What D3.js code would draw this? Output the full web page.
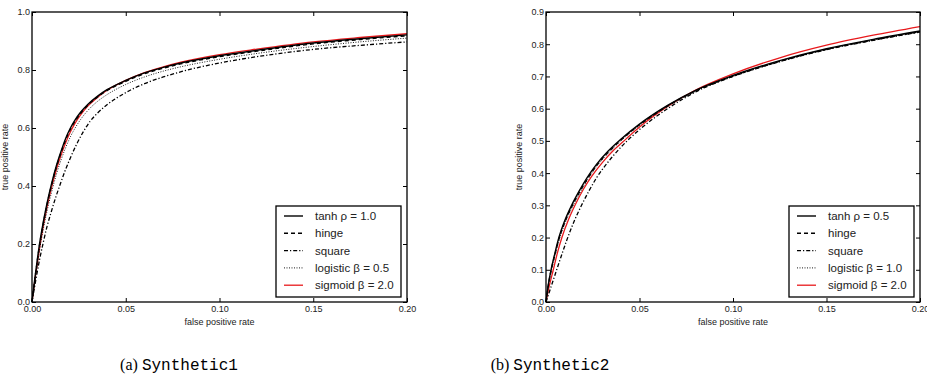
<!DOCTYPE html>
<html>
<head>
<meta charset="utf-8">
<script src="https://cdn.jsdelivr.net/npm/d3@7"></script>
<style>
  body { margin: 0; background: #fff; }
  svg { display: block; }
  text { font-family: "Liberation Sans", Arial, sans-serif; fill: #222; }
  .caption { font-size: 16px; fill: #000; }
  .caption .mono { font-family: "Liberation Mono", "DejaVu Sans Mono", monospace; }
  .caption .serif { font-family: "Liberation Serif", "DejaVu Serif", serif; }
</style>
</head>
<body>
<div id="chart"></div>
<script>

// ---- panel (a) Synthetic1 : [fpr, tpr] points
const a_tanh     = [[0,0],[0.001,0.055],[0.002,0.105],[0.004,0.2],[0.006,0.275],[0.008,0.34],[0.0105,0.41],[0.013,0.47],[0.0155,0.52],[0.018,0.565],[0.0205,0.6],[0.023,0.628],[0.026,0.655],[0.03,0.683],[0.035,0.71],[0.04,0.732],[0.05,0.764],[0.06,0.79],[0.07,0.809],[0.08,0.825],[0.1,0.849],[0.12,0.868],[0.15,0.893],[0.175,0.908],[0.2,0.921]];
const a_hinge    = [[0,0],[0.001,0.053],[0.002,0.102],[0.004,0.195],[0.006,0.27],[0.008,0.335],[0.0105,0.405],[0.013,0.465],[0.0155,0.515],[0.018,0.56],[0.0205,0.596],[0.023,0.624],[0.026,0.651],[0.03,0.68],[0.035,0.707],[0.04,0.729],[0.05,0.761],[0.06,0.787],[0.07,0.806],[0.08,0.822],[0.1,0.846],[0.12,0.865],[0.15,0.89],[0.175,0.905],[0.2,0.918]];
const a_square   = [[0,0],[0.002,0.075],[0.004,0.145],[0.006,0.205],[0.008,0.26],[0.01,0.305],[0.0125,0.358],[0.015,0.405],[0.0175,0.45],[0.02,0.49],[0.0235,0.54],[0.027,0.583],[0.031,0.623],[0.035,0.652],[0.04,0.68],[0.05,0.722],[0.06,0.753],[0.07,0.776],[0.08,0.795],[0.1,0.824],[0.12,0.846],[0.15,0.871],[0.175,0.885],[0.2,0.897]];
const a_logistic = [[0,0],[0.001,0.048],[0.002,0.093],[0.004,0.178],[0.006,0.25],[0.008,0.313],[0.0105,0.38],[0.013,0.44],[0.0155,0.49],[0.018,0.533],[0.0205,0.57],[0.023,0.6],[0.026,0.63],[0.03,0.662],[0.035,0.692],[0.04,0.715],[0.05,0.75],[0.06,0.776],[0.07,0.796],[0.08,0.812],[0.1,0.837],[0.12,0.857],[0.15,0.881],[0.175,0.897],[0.2,0.91]];
const a_sigmoid  = [[0,0],[0.001,0.05],[0.002,0.097],[0.004,0.185],[0.006,0.262],[0.008,0.327],[0.0105,0.397],[0.013,0.457],[0.0155,0.507],[0.018,0.55],[0.0205,0.587],[0.023,0.617],[0.026,0.646],[0.03,0.677],[0.035,0.706],[0.04,0.73],[0.05,0.764],[0.06,0.791],[0.07,0.811],[0.08,0.828],[0.1,0.853],[0.12,0.872],[0.15,0.897],[0.175,0.912],[0.2,0.925]];
const a_labels   = ["tanh \u03c1 = 1.0", "hinge", "square", "logistic \u03b2 = 0.5", "sigmoid \u03b2 = 2.0"];
const a_yTicks   = [0, 0.2, 0.4, 0.6, 0.8, 1.0];

// ---- panel (b) Synthetic2
const b_tanh     = [[0,0],[0.001,0.045],[0.0027,0.1],[0.0045,0.145],[0.0069,0.2],[0.01,0.252],[0.0137,0.3],[0.018,0.347],[0.022,0.386],[0.027,0.427],[0.033,0.467],[0.04,0.505],[0.05,0.552],[0.065,0.61],[0.08,0.657],[0.1,0.703],[0.125,0.749],[0.15,0.786],[0.175,0.815],[0.2,0.841]];
const b_hinge    = [[0,0],[0.001,0.043],[0.0027,0.097],[0.0045,0.141],[0.0069,0.195],[0.01,0.247],[0.0137,0.295],[0.018,0.342],[0.022,0.381],[0.027,0.423],[0.033,0.463],[0.04,0.502],[0.05,0.55],[0.065,0.608],[0.08,0.655],[0.1,0.701],[0.125,0.747],[0.15,0.784],[0.175,0.813],[0.2,0.839]];
const b_square   = [[0,0],[0.002,0.035],[0.004,0.07],[0.006,0.105],[0.0085,0.148],[0.011,0.19],[0.015,0.25],[0.019,0.3],[0.023,0.345],[0.027,0.385],[0.033,0.433],[0.04,0.48],[0.05,0.535],[0.065,0.6],[0.08,0.652],[0.1,0.7],[0.125,0.746],[0.15,0.783],[0.175,0.812],[0.2,0.838]];
const b_logistic = [[0,0],[0.001,0.041],[0.0027,0.094],[0.0045,0.137],[0.0069,0.19],[0.01,0.242],[0.0137,0.29],[0.018,0.337],[0.022,0.377],[0.027,0.42],[0.033,0.46],[0.04,0.5],[0.05,0.548],[0.065,0.607],[0.08,0.654],[0.1,0.7],[0.125,0.746],[0.15,0.784],[0.175,0.813],[0.2,0.839]];
const b_sigmoid  = [[0,0],[0.001,0.03],[0.0039,0.1],[0.006,0.15],[0.0085,0.2],[0.012,0.255],[0.0155,0.3],[0.02,0.35],[0.0244,0.39],[0.03,0.432],[0.036,0.47],[0.043,0.507],[0.05,0.543],[0.065,0.607],[0.08,0.658],[0.1,0.708],[0.125,0.758],[0.15,0.797],[0.175,0.828],[0.2,0.855]];
const b_labels   = ["tanh \u03c1 = 0.5", "hinge", "square", "logistic \u03b2 = 1.0", "sigmoid \u03b2 = 2.0"];
const b_yTicks   = [0, 0.1, 0.2, 0.3, 0.4, 0.5, 0.6, 0.7, 0.8, 0.9];

const xTicks = [0, 0.05, 0.10, 0.15, 0.20];

// line styles, same order as the legend
const styles = [
    {stroke: "#000", width: 1.4, dash: null},
    {stroke: "#000", width: 1.4, dash: "4,3"},
    {stroke: "#000", width: 1.3, dash: "4,2,1.2,2"},
    {stroke: "#000", width: 0.9, dash: "1,1.5"},
    {stroke: "#e8191c", width: 1.3, dash: null}
];

const W = 927, H = 387;
const svg = d3.select("#chart").append("svg").attr("width", W).attr("height", H);

function drawPanel(opt) {
    const x = d3.scaleLinear().domain([0, 0.2]).range([opt.left, opt.right]);
    const y = d3.scaleLinear().domain([0, opt.yMax]).range([opt.bottom, opt.top]);
    const g = svg.append("g");

    const line = d3.line()
        .x(d => x(d[0]))
        .y(d => y(d[1]))
        .curve(d3.curveMonotoneX);

    // curves (reverse order so the solid black sits on top)
    [4, 3, 2, 1, 0].forEach(function (i) {
        g.append("path")
            .datum(opt.series[i])
            .attr("fill", "none")
            .attr("stroke", styles[i].stroke)
            .attr("stroke-width", styles[i].width)
            .attr("stroke-dasharray", styles[i].dash)
            .attr("d", line);
    });

    // axes, ticks pointing inward on all four sides
    const fmtX = d3.format(".2f"), fmtY = d3.format(".1f");
    const bottomAx = g.append("g").attr("transform", "translate(0," + opt.bottom + ")")
        .call(d3.axisBottom(x).tickValues(xTicks).tickSizeInner(-4).tickSizeOuter(0).tickPadding(4).tickFormat(fmtX));
    const topAx = g.append("g").attr("transform", "translate(0," + opt.top + ")")
        .call(d3.axisTop(x).tickValues(xTicks).tickSizeInner(-4).tickSizeOuter(0).tickFormat(""));
    const leftAx = g.append("g").attr("transform", "translate(" + opt.left + ",0)")
        .call(d3.axisLeft(y).tickValues(opt.yTicks).tickSizeInner(-4).tickSizeOuter(0).tickPadding(2).tickFormat(fmtY));
    const rightAx = g.append("g").attr("transform", "translate(" + opt.right + ",0)")
        .call(d3.axisRight(y).tickValues(opt.yTicks).tickSizeInner(-4).tickSizeOuter(0).tickFormat(""));

    [bottomAx, topAx, leftAx, rightAx].forEach(function (ax) {
        ax.select(".domain").remove();
        ax.selectAll("line").attr("stroke", "#000").attr("stroke-width", 1);
        ax.selectAll("text").style("font-family", "Liberation Sans, Arial, sans-serif")
            .style("font-size", "9px").attr("fill", "#333");
    });

    // frame
    g.append("rect")
        .attr("x", opt.left).attr("y", opt.top)
        .attr("width", opt.right - opt.left).attr("height", opt.bottom - opt.top)
        .attr("fill", "none").attr("stroke", "#000").attr("stroke-width", 1.3);

    // axis labels
    g.append("text")
        .attr("x", (opt.left + opt.right) / 2).attr("y", opt.bottom + 20).attr("dy", "0.35em")
        .attr("text-anchor", "middle").style("font-size", "9px").attr("fill", "#333")
        .text("false positive rate");
    g.append("text")
        .attr("transform", "translate(" + (opt.left - 27) + "," + ((opt.top + opt.bottom) / 2) + ") rotate(-90)")
        .attr("text-anchor", "middle").attr("dy", "0.35em").style("font-size", "9px").attr("fill", "#333")
        .text("true positive rate");

    // legend
    const lg = g.append("g").attr("transform", "translate(" + opt.legendX + "," + opt.legendY + ")");
    lg.append("rect").attr("width", 125).attr("height", 91)
        .attr("fill", "#fff").attr("stroke", "#000").attr("stroke-width", 1.3);
    opt.labels.forEach(function (lab, i) {
        const yy = 10 + i * 17.3;
        lg.append("line")
            .attr("x1", 8).attr("x2", 27).attr("y1", yy).attr("y2", yy)
            .attr("stroke", styles[i].stroke)
            .attr("stroke-width", styles[i].width)
            .attr("stroke-dasharray", styles[i].dash);
        lg.append("text")
            .attr("x", 39).attr("y", yy).attr("dy", "0.35em")
            .style("font-size", "11.5px").attr("fill", "#222")
            .text(lab);
    });

    // caption
    const cap = svg.append("text").attr("class", "caption")
        .attr("x", opt.capX).attr("y", 370).attr("text-anchor", "middle");
    cap.append("tspan").attr("class", "serif").text(opt.capTag + " ");
    cap.append("tspan").attr("class", "mono").text(opt.capName);
}

drawPanel({
    left: 32, right: 407, top: 12, bottom: 302, yMax: 1.0, yTicks: a_yTicks,
    series: [a_tanh, a_hinge, a_square, a_logistic, a_sigmoid], labels: a_labels,
    legendX: 276, legendY: 206, capX: 179, capTag: "(a)", capName: "Synthetic1"
});

drawPanel({
    left: 546, right: 920, top: 12, bottom: 302, yMax: 0.9, yTicks: b_yTicks,
    series: [b_tanh, b_hinge, b_square, b_logistic, b_sigmoid], labels: b_labels,
    legendX: 789, legendY: 206, capX: 550, capTag: "(b)", capName: "Synthetic2"
});

</script>
</body>
</html>
